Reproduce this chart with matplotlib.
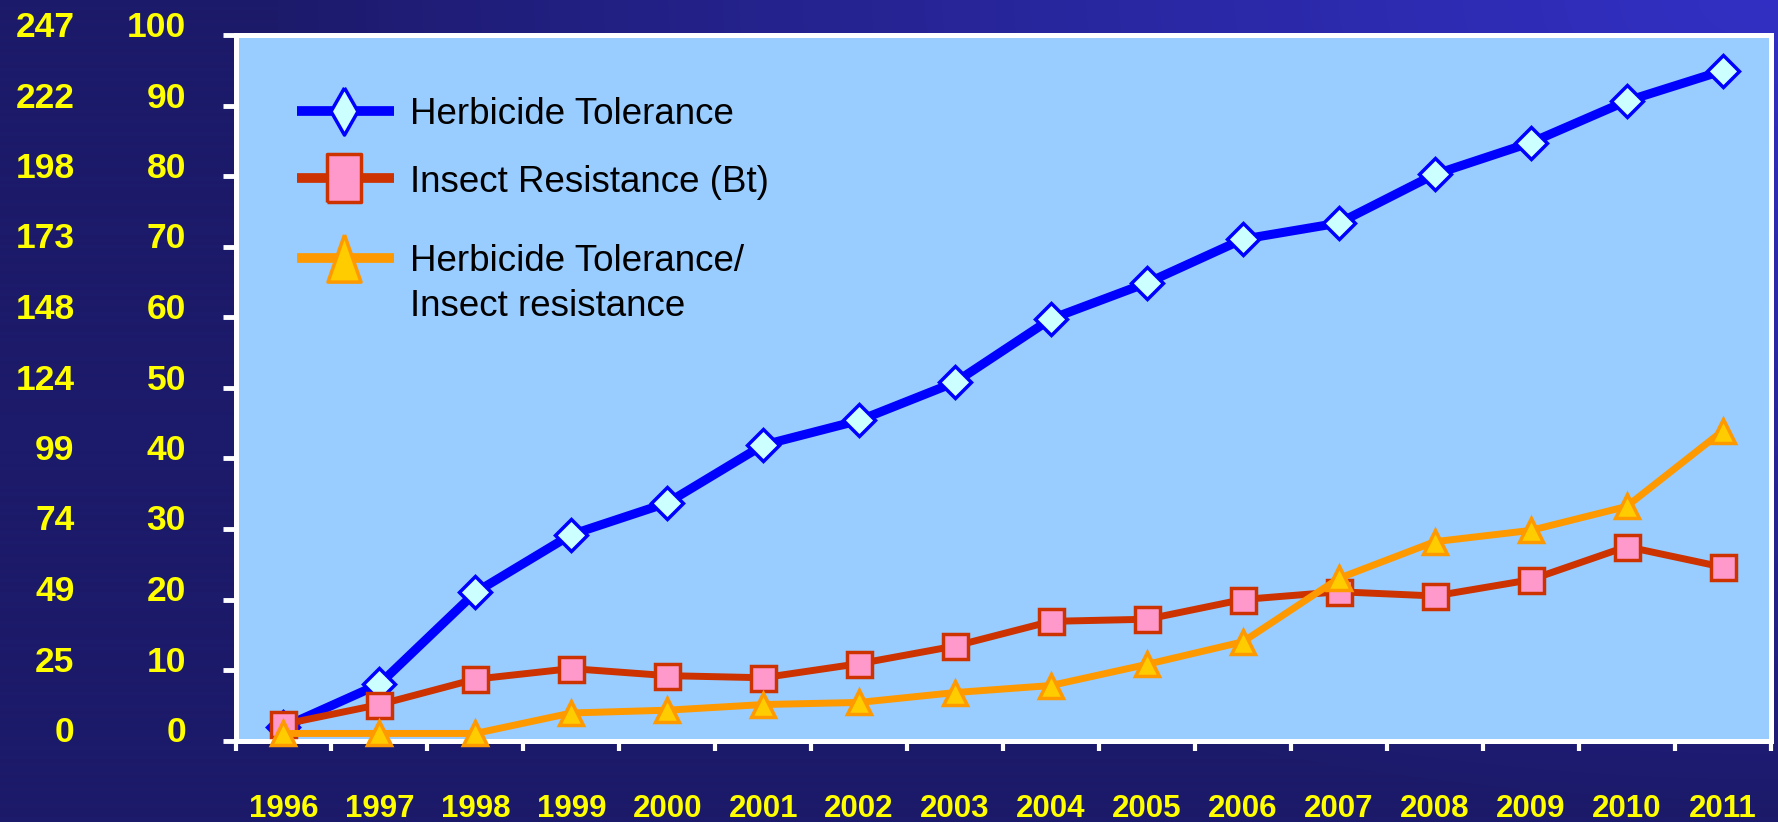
import numpy as np
import matplotlib
matplotlib.use("Agg")
import matplotlib.pyplot as plt
from matplotlib.transforms import ScaledTranslation, blended_transform_factory

# ---------------- data ----------------
years = ["1996", "1997", "1998", "1999", "2000", "2001", "2002", "2003",
         "2004", "2005", "2006", "2007", "2008", "2009", "2010", "2011"]
herbicide_tolerance = [1.9, 8.0, 21.0, 29.2, 33.7, 41.9, 45.4, 50.8,
                       59.8, 64.9, 71.1, 73.4, 80.3, 84.8, 90.7, 95.0]
insect_resistance = [2.3, 5.1, 8.7, 10.2, 9.2, 8.9, 10.9, 13.4,
                     16.9, 17.2, 20.0, 21.1, 20.5, 22.8, 27.5, 24.6]
stacked_traits = [1.0, 1.0, 1.0, 3.9, 4.3, 5.1, 5.4, 6.8,
                  7.8, 10.8, 14.0, 23.0, 28.2, 29.8, 33.2, 43.9]
hectare_ticks = [0, 10, 20, 30, 40, 50, 60, 70, 80, 90, 100]
hectare_labels = ["0", "10", "20", "30", "40", "50", "60", "70", "80", "90", "100"]
acre_labels = ["0", "25", "49", "74", "99", "124", "148", "173", "198", "222", "247"]
series_names = ["Herbicide Tolerance", "Insect Resistance (Bt)",
                "Herbicide Tolerance/", "Insect resistance"]

W, H, DPI = 1778, 822, 100
fig = plt.figure(figsize=(W / DPI, H / DPI), dpi=DPI)

# ---------------- gradient background ----------------
bg = fig.add_axes([0, 0, 1, 1], zorder=-10)
yy, xx = np.mgrid[0:H, 0:W]
d = np.sqrt(((W - xx) / 1500.0) ** 2 + (yy / 800.0) ** 2)
t = np.clip(1.0 - d, 0, 1) ** 0.85
dark = np.array([28, 26, 106]) / 255.0
bright = np.array([50, 48, 196]) / 255.0
img = dark[None, None, :] * (1 - t[..., None]) + bright[None, None, :] * t[..., None]
bg.imshow(img, aspect="auto", extent=[0, 1, 0, 1], origin="upper")
bg.set_axis_off()

# ---------------- main axes ----------------
left_px, right_px, top_px, bottom_px = 235.5, 1770.5, 35.5, 740.5
ax = fig.add_axes([left_px / W, (H - bottom_px) / H,
                   (right_px - left_px) / W, (bottom_px - top_px) / H])
ax.set_facecolor("#99CCFF")
x = np.arange(len(years))

ax.plot(x, herbicide_tolerance, color="#0000FF", lw=6.5, marker="D",
        markersize=16.5, markerfacecolor="#CCFFFF", markeredgecolor="#0000FF",
        markeredgewidth=2.5, zorder=3, clip_on=False)
ax.plot(x, insect_resistance, color="#CC3300", lw=5, marker="s",
        markersize=18, markerfacecolor="#FF99CC", markeredgecolor="#CC3300",
        markeredgewidth=2.5, zorder=4, clip_on=False)
ax.plot(x, stacked_traits, color="#FF9900", lw=5, marker="^",
        markersize=17, markerfacecolor="#FFCC00", markeredgecolor="#FF9900",
        markeredgewidth=2.5, zorder=5, clip_on=False)

ax.set_xlim(-0.5, len(years) - 0.5)
ax.set_ylim(0, 100)

for s in ax.spines.values():
    s.set_color("white")
    s.set_linewidth(3.6)

ax.set_yticks(hectare_ticks)
ax.set_yticklabels([])
ax.tick_params(axis="y", which="major", direction="out", length=9.5, width=3.5,
               color="white")
ax.set_xticks(x)
ax.set_xticklabels([])
ax.tick_params(axis="x", which="major", length=0)
ax.set_xticks(np.arange(-0.5, len(years), 1.0), minor=True)
ax.tick_params(axis="x", which="minor", direction="out", length=7.5, width=3,
               color="white")

# y labels (two columns: million hectares & million acres)
ytrans = blended_transform_factory(ax.transAxes, ax.transData)
for v, hl, al in zip(hectare_ticks, hectare_labels, acre_labels):
    ax.text(0, v, hl, transform=ytrans + ScaledTranslation(-49.5 / DPI, -1.5 / DPI, fig.dpi_scale_trans),
            ha="right", va="baseline", color="#FFFF00", fontsize=25.5,
            fontweight="bold", family="Liberation Sans", clip_on=False)
    ax.text(0, v, al, transform=ytrans + ScaledTranslation(-161 / DPI, -1.5 / DPI, fig.dpi_scale_trans),
            ha="right", va="baseline", color="#FFFF00", fontsize=25.5,
            fontweight="bold", family="Liberation Sans", clip_on=False)

# x labels
xtrans = blended_transform_factory(ax.transData, ax.transAxes)
for xi, yl in zip(x, years):
    ax.text(xi, 0, yl, transform=xtrans + ScaledTranslation(0, -76.5 / DPI, fig.dpi_scale_trans),
            ha="center", va="baseline", color="#FFFF00", fontsize=22.5,
            fontweight="bold", family="Liberation Sans", clip_on=False)

# ---------------- legend (manual) ----------------
def ax_x(px):
    return (px - left_px) / (right_px - left_px)

def ax_y(py):
    return (bottom_px - py) / (bottom_px - top_px)

tall_diamond = [(0, 1), (0.57, 0), (0, -1), (-0.57, 0), (0, 1)]
tall_square = [(-0.7, -1), (0.7, -1), (0.7, 1), (-0.7, 1), (-0.7, -1)]
tall_triangle = [(0, 1), (0.7, -1), (-0.7, -1), (0, 1)]

hx0, hx1, hxm, tx = ax_x(297), ax_x(394), ax_x(344), ax_x(410.5)
leg = [
    (ax_y(110.7), ax_y(124), dict(color="#0000FF", lw=7), dict(marker=tall_diamond, markersize=34,
        markerfacecolor="#CCFFFF", markeredgecolor="#0000FF", markeredgewidth=2.5)),
    (ax_y(178.3), ax_y(191.7), dict(color="#CC3300", lw=7), dict(marker=tall_square, markersize=34,
        markerfacecolor="#FF99CC", markeredgecolor="#CC3300", markeredgewidth=2.5)),
    (ax_y(258), ax_y(270.7), dict(color="#FF9900", lw=7), dict(marker=tall_triangle, markersize=34,
        markerfacecolor="#FFCC00", markeredgecolor="#FF9900", markeredgewidth=2.5)),
]
for (hy, by, lkw, mkw), name in zip(leg, series_names[:3]):
    ax.plot([hx0, hx1], [hy, hy], transform=ax.transAxes, zorder=6,
            solid_capstyle="butt", **lkw)
    ax.plot([hxm], [hy], transform=ax.transAxes, zorder=7, **mkw)
    ax.text(tx, by, name, transform=ax.transAxes, ha="left", va="baseline",
            fontsize=26.5, color="black", family="Liberation Sans")
ax.text(tx, ax_y(316), series_names[3], transform=ax.transAxes, ha="left",
        va="baseline", fontsize=26.5, color="black", family="Liberation Sans")

fig.savefig("out.png", dpi=DPI, facecolor=fig.get_facecolor())
